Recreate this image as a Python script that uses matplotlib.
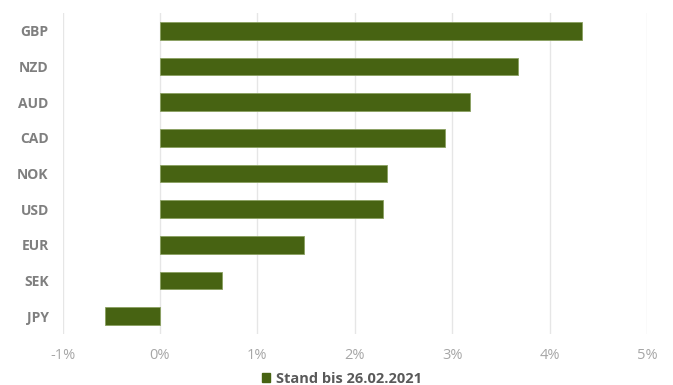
import matplotlib.pyplot as plt
from matplotlib.patches import Patch

# Data
currencies = ['GBP', 'NZD', 'AUD', 'CAD', 'NOK', 'USD', 'EUR', 'SEK', 'JPY']
values = [4.335, 3.68, 3.18, 2.93, 2.33, 2.29, 1.475, 0.635, -0.567]
x_ticks = [-1, 0, 1, 2, 3, 4, 5]
legend_label = 'Stand bis 26.02.2021'

bar_color = '#476312'
plt.rcParams['font.family'] = ['Open Sans', 'DejaVu Sans']

fig = plt.figure(figsize=(6.73, 3.85), dpi=100)
ax = fig.add_axes([0.0929, 0.1325, 0.8685, 0.8335])

y_pos = list(range(len(currencies)))
ax.barh(y_pos, values, height=0.49, color=bar_color, edgecolor='#8aa060', linewidth=0.6, zorder=3)

ax.set_ylim(len(currencies) - 0.5, -0.5)
ax.set_xlim(-1, 5)
ax.set_yticks(y_pos)
ax.set_yticklabels(currencies, fontsize=10, fontweight='bold', color='#7f7f7f')
ax.set_xticks(x_ticks)
ax.set_xticklabels([f'{t}%' for t in x_ticks], fontsize=10.5, color='#a6a6a6')
ax.tick_params(axis='y', length=0, pad=10)
ax.tick_params(axis='x', length=0, pad=10)

ax.grid(axis='x', color='#e6e6e6', linewidth=1, zorder=0)
for s in ax.spines.values():
    s.set_visible(False)

handles = [Patch(facecolor=bar_color, edgecolor=bar_color, label=legend_label)]
leg = fig.legend(handles=handles, loc='center', bbox_to_anchor=(0.508, 0.016), frameon=False,
                 handlelength=0.6, handleheight=0.6, handletextpad=0.4,
                 prop={'size': 10.5, 'weight': 'bold'})
for t in leg.get_texts():
    t.set_color('#595959')

fig.savefig('out.png', dpi=100)
